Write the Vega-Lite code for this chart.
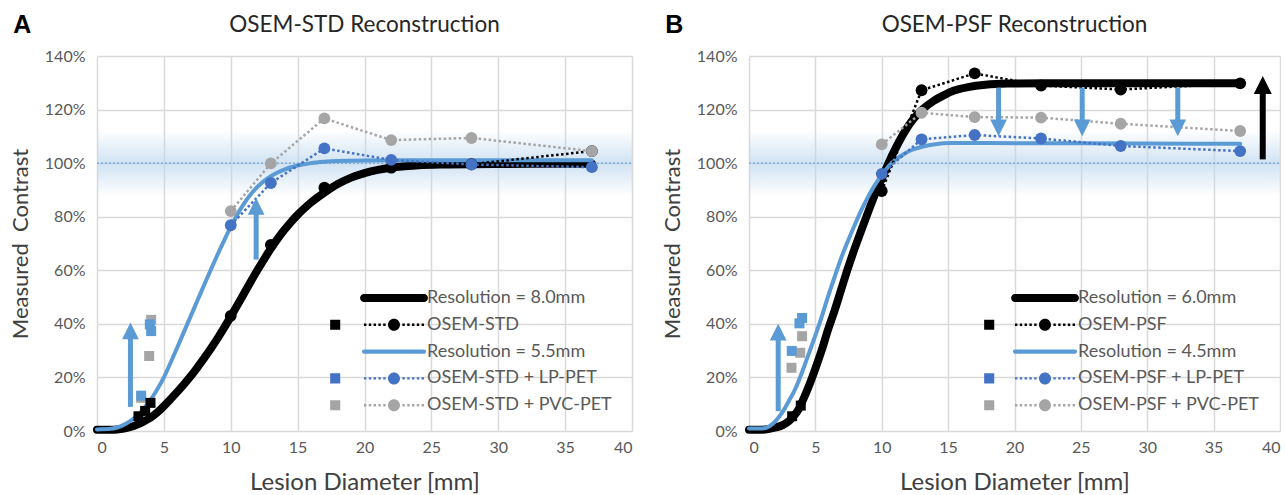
{
  "$schema": "https://vega.github.io/schema/vega-lite/v6.json",
  "background": "white",
  "autosize": {"type": "pad"},
  "padding": {"left": 9, "top": 12, "right": 0, "bottom": 0},
  "spacing": 28,
  "config": {
    "font": "Lato",
    "view": {"stroke": null},
    "axis": {"grid": true, "gridColor": "#d9d9d9", "gridWidth": 1.5, "domain": false, "ticks": false, "labelFont": "Lato", "labelFontSize": 16, "labelColor": "#595959", "titleFont": "Lato", "titleFontSize": 22, "titleFontWeight": "normal", "titleColor": "#404040"},
    "title": {"font": "Lato", "fontSize": 22.5, "fontWeight": "normal", "color": "#262626"}
  },
  "resolve": {"scale": {"x": "independent", "y": "independent", "color": "independent", "fill": "independent", "shape": "independent"}, "legend": {"color": "independent"}},
  "datasets": {
    "bandA": [{"d": 0, "d2": 40, "c": 87.5, "c2": 112.5}],
    "refA": [{"d": 0, "d2": 40, "c": 100}],
    "curvesA": [
      {"series": "Resolution = 8.0mm", "d": 0, "c": 0.5}, {"series": "Resolution = 8.0mm", "d": 1, "c": 0.5}, {"series": "Resolution = 8.0mm", "d": 1.5, "c": 0.6}, {"series": "Resolution = 8.0mm", "d": 2, "c": 0.9}, {"series": "Resolution = 8.0mm", "d": 2.5, "c": 1.5}, {"series": "Resolution = 8.0mm", "d": 3, "c": 2.4}, {"series": "Resolution = 8.0mm", "d": 3.5, "c": 3.6}, {"series": "Resolution = 8.0mm", "d": 4, "c": 5.0}, {"series": "Resolution = 8.0mm", "d": 4.5, "c": 6.9}, {"series": "Resolution = 8.0mm", "d": 5, "c": 9.3}, {"series": "Resolution = 8.0mm", "d": 5.5, "c": 11.9}, {"series": "Resolution = 8.0mm", "d": 6, "c": 14.6}, {"series": "Resolution = 8.0mm", "d": 6.5, "c": 17.4}, {"series": "Resolution = 8.0mm", "d": 7, "c": 20.4}, {"series": "Resolution = 8.0mm", "d": 7.5, "c": 23.7}, {"series": "Resolution = 8.0mm", "d": 8, "c": 27.1}, {"series": "Resolution = 8.0mm", "d": 8.5, "c": 30.7}, {"series": "Resolution = 8.0mm", "d": 9, "c": 34.5}, {"series": "Resolution = 8.0mm", "d": 9.5, "c": 38.5}, {"series": "Resolution = 8.0mm", "d": 10, "c": 42.7}, {"series": "Resolution = 8.0mm", "d": 10.5, "c": 47}, {"series": "Resolution = 8.0mm", "d": 11, "c": 51.4}, {"series": "Resolution = 8.0mm", "d": 11.5, "c": 55.8}, {"series": "Resolution = 8.0mm", "d": 12, "c": 60.1}, {"series": "Resolution = 8.0mm", "d": 12.5, "c": 64.2}, {"series": "Resolution = 8.0mm", "d": 13, "c": 68.1}, {"series": "Resolution = 8.0mm", "d": 13.5, "c": 71.7}, {"series": "Resolution = 8.0mm", "d": 14, "c": 75}, {"series": "Resolution = 8.0mm", "d": 14.5, "c": 78}, {"series": "Resolution = 8.0mm", "d": 15, "c": 80.7}, {"series": "Resolution = 8.0mm", "d": 15.5, "c": 83.1}, {"series": "Resolution = 8.0mm", "d": 16, "c": 85.3}, {"series": "Resolution = 8.0mm", "d": 17, "c": 89}, {"series": "Resolution = 8.0mm", "d": 18, "c": 92.2}, {"series": "Resolution = 8.0mm", "d": 19, "c": 94.6}, {"series": "Resolution = 8.0mm", "d": 20, "c": 96.3}, {"series": "Resolution = 8.0mm", "d": 21, "c": 97.5}, {"series": "Resolution = 8.0mm", "d": 22, "c": 98.3}, {"series": "Resolution = 8.0mm", "d": 23, "c": 98.8}, {"series": "Resolution = 8.0mm", "d": 24, "c": 99.2}, {"series": "Resolution = 8.0mm", "d": 26, "c": 99.5}, {"series": "Resolution = 8.0mm", "d": 30, "c": 99.7}, {"series": "Resolution = 8.0mm", "d": 37, "c": 99.8},
      {"series": "Resolution = 5.5mm", "d": 0, "c": 0.6}, {"series": "Resolution = 5.5mm", "d": 1, "c": 0.8}, {"series": "Resolution = 5.5mm", "d": 1.5, "c": 1.3}, {"series": "Resolution = 5.5mm", "d": 2, "c": 2.3}, {"series": "Resolution = 5.5mm", "d": 2.5, "c": 3.8}, {"series": "Resolution = 5.5mm", "d": 3, "c": 5.8}, {"series": "Resolution = 5.5mm", "d": 3.5, "c": 8.4}, {"series": "Resolution = 5.5mm", "d": 4, "c": 11.6}, {"series": "Resolution = 5.5mm", "d": 4.5, "c": 15.5}, {"series": "Resolution = 5.5mm", "d": 5, "c": 20}, {"series": "Resolution = 5.5mm", "d": 5.5, "c": 25.5}, {"series": "Resolution = 5.5mm", "d": 6, "c": 31.2}, {"series": "Resolution = 5.5mm", "d": 6.5, "c": 37}, {"series": "Resolution = 5.5mm", "d": 7, "c": 42.8}, {"series": "Resolution = 5.5mm", "d": 7.5, "c": 48.6}, {"series": "Resolution = 5.5mm", "d": 8, "c": 54.4}, {"series": "Resolution = 5.5mm", "d": 8.5, "c": 60.1}, {"series": "Resolution = 5.5mm", "d": 9, "c": 65.7}, {"series": "Resolution = 5.5mm", "d": 9.5, "c": 71.1}, {"series": "Resolution = 5.5mm", "d": 10, "c": 76.2}, {"series": "Resolution = 5.5mm", "d": 10.5, "c": 80.9}, {"series": "Resolution = 5.5mm", "d": 11, "c": 85}, {"series": "Resolution = 5.5mm", "d": 11.5, "c": 88.4}, {"series": "Resolution = 5.5mm", "d": 12, "c": 91.2}, {"series": "Resolution = 5.5mm", "d": 12.5, "c": 93.4}, {"series": "Resolution = 5.5mm", "d": 13, "c": 95.1}, {"series": "Resolution = 5.5mm", "d": 13.5, "c": 96.5}, {"series": "Resolution = 5.5mm", "d": 14, "c": 97.6}, {"series": "Resolution = 5.5mm", "d": 15, "c": 99.1}, {"series": "Resolution = 5.5mm", "d": 16, "c": 100}, {"series": "Resolution = 5.5mm", "d": 17, "c": 100.5}, {"series": "Resolution = 5.5mm", "d": 18, "c": 100.8}, {"series": "Resolution = 5.5mm", "d": 20, "c": 101}, {"series": "Resolution = 5.5mm", "d": 25, "c": 101.1}, {"series": "Resolution = 5.5mm", "d": 37, "c": 101.1}
    ],
    "ptsA": [
      {"series": "OSEM-STD", "d": 10, "c": 43}, {"series": "OSEM-STD", "d": 13, "c": 69.5}, {"series": "OSEM-STD", "d": 17, "c": 90.8}, {"series": "OSEM-STD", "d": 22, "c": 98.3}, {"series": "OSEM-STD", "d": 28, "c": 99.6}, {"series": "OSEM-STD", "d": 37, "c": 104.5},
      {"series": "OSEM-STD + PVC-PET", "d": 10, "c": 82.1}, {"series": "OSEM-STD + PVC-PET", "d": 13, "c": 99.9}, {"series": "OSEM-STD + PVC-PET", "d": 17, "c": 116.7}, {"series": "OSEM-STD + PVC-PET", "d": 22, "c": 108.6}, {"series": "OSEM-STD + PVC-PET", "d": 28, "c": 109.4}, {"series": "OSEM-STD + PVC-PET", "d": 37, "c": 104.5},
      {"series": "OSEM-STD + LP-PET", "d": 10, "c": 76.8}, {"series": "OSEM-STD + LP-PET", "d": 13, "c": 92.6}, {"series": "OSEM-STD + LP-PET", "d": 17, "c": 105.5}, {"series": "OSEM-STD + LP-PET", "d": 22, "c": 101.2}, {"series": "OSEM-STD + LP-PET", "d": 28, "c": 99.5}, {"series": "OSEM-STD + LP-PET", "d": 37, "c": 98.5}
    ],
    "sqA": [
      {"series": "OSEM-STD + PVC-PET", "d": 3.3, "c": 12.4}, {"series": "OSEM-STD + PVC-PET", "d": 4.05, "c": 41.5}, {"series": "OSEM-STD + PVC-PET", "d": 3.9, "c": 28},
      {"series": "OSEM-STD + LP-PET", "d": 3.3, "c": 13.2}, {"series": "OSEM-STD + LP-PET", "d": 3.95, "c": 39.8}, {"series": "OSEM-STD + LP-PET", "d": 4.05, "c": 37.3},
      {"series": "OSEM-STD", "d": 3.1, "c": 5.5}, {"series": "OSEM-STD", "d": 3.6, "c": 7.5}, {"series": "OSEM-STD", "d": 4.0, "c": 10.5}
    ],
    "arrA": [
      {"d": 2.5, "c": 9, "c2": 36.5, "tip": 40.5, "dir": "up", "kind": "blue"},
      {"d": 11.9, "c": 64, "c2": 83, "tip": 87, "dir": "up", "kind": "blue"}
    ],
    "curvesB": [
      {"series": "Resolution = 6.0mm", "d": 0, "c": 0.5}, {"series": "Resolution = 6.0mm", "d": 1, "c": 0.5}, {"series": "Resolution = 6.0mm", "d": 1.54, "c": 0.8}, {"series": "Resolution = 6.0mm", "d": 2, "c": 1.3}, {"series": "Resolution = 6.0mm", "d": 2.57, "c": 2.3}, {"series": "Resolution = 6.0mm", "d": 3, "c": 3.7}, {"series": "Resolution = 6.0mm", "d": 3.35, "c": 5.4}, {"series": "Resolution = 6.0mm", "d": 3.75, "c": 8.2}, {"series": "Resolution = 6.0mm", "d": 4.12, "c": 12.2}, {"series": "Resolution = 6.0mm", "d": 4.55, "c": 17.3}, {"series": "Resolution = 6.0mm", "d": 5.02, "c": 23.6}, {"series": "Resolution = 6.0mm", "d": 5.5, "c": 30.5}, {"series": "Resolution = 6.0mm", "d": 5.92, "c": 37.3}, {"series": "Resolution = 6.0mm", "d": 6.45, "c": 45}, {"series": "Resolution = 6.0mm", "d": 6.95, "c": 52.9}, {"series": "Resolution = 6.0mm", "d": 7.5, "c": 61.5}, {"series": "Resolution = 6.0mm", "d": 7.98, "c": 68.4}, {"series": "Resolution = 6.0mm", "d": 8.5, "c": 75.5}, {"series": "Resolution = 6.0mm", "d": 9, "c": 82.1}, {"series": "Resolution = 6.0mm", "d": 9.5, "c": 88.5}, {"series": "Resolution = 6.0mm", "d": 10.04, "c": 94.6}, {"series": "Resolution = 6.0mm", "d": 10.55, "c": 100.5}, {"series": "Resolution = 6.0mm", "d": 11.07, "c": 105.8}, {"series": "Resolution = 6.0mm", "d": 11.7, "c": 111.5}, {"series": "Resolution = 6.0mm", "d": 12.35, "c": 116.3}, {"series": "Resolution = 6.0mm", "d": 13.1, "c": 120.2}, {"series": "Resolution = 6.0mm", "d": 13.9, "c": 123.2}, {"series": "Resolution = 6.0mm", "d": 14.7, "c": 125.4}, {"series": "Resolution = 6.0mm", "d": 15.4, "c": 127}, {"series": "Resolution = 6.0mm", "d": 16.5, "c": 128.4}, {"series": "Resolution = 6.0mm", "d": 17.8, "c": 129.3}, {"series": "Resolution = 6.0mm", "d": 19.5, "c": 129.7}, {"series": "Resolution = 6.0mm", "d": 22.4, "c": 129.8}, {"series": "Resolution = 6.0mm", "d": 30, "c": 129.8}, {"series": "Resolution = 6.0mm", "d": 37, "c": 129.8},
      {"series": "Resolution = 4.5mm", "d": 0, "c": 0.9}, {"series": "Resolution = 4.5mm", "d": 1, "c": 0.9}, {"series": "Resolution = 4.5mm", "d": 1.54, "c": 1.8}, {"series": "Resolution = 4.5mm", "d": 2.05, "c": 4}, {"series": "Resolution = 4.5mm", "d": 2.57, "c": 7.4}, {"series": "Resolution = 4.5mm", "d": 3, "c": 11.2}, {"series": "Resolution = 4.5mm", "d": 3.35, "c": 14.3}, {"series": "Resolution = 4.5mm", "d": 3.75, "c": 18.8}, {"series": "Resolution = 4.5mm", "d": 4.12, "c": 23.6}, {"series": "Resolution = 4.5mm", "d": 4.55, "c": 29.5}, {"series": "Resolution = 4.5mm", "d": 5.02, "c": 36}, {"series": "Resolution = 4.5mm", "d": 5.5, "c": 43}, {"series": "Resolution = 4.5mm", "d": 5.92, "c": 49.7}, {"series": "Resolution = 4.5mm", "d": 6.45, "c": 57.5}, {"series": "Resolution = 4.5mm", "d": 6.95, "c": 64.7}, {"series": "Resolution = 4.5mm", "d": 7.5, "c": 71.5}, {"series": "Resolution = 4.5mm", "d": 7.98, "c": 77.1}, {"series": "Resolution = 4.5mm", "d": 8.5, "c": 82.8}, {"series": "Resolution = 4.5mm", "d": 9, "c": 87.7}, {"series": "Resolution = 4.5mm", "d": 9.5, "c": 92}, {"series": "Resolution = 4.5mm", "d": 10.04, "c": 95.8}, {"series": "Resolution = 4.5mm", "d": 10.55, "c": 99}, {"series": "Resolution = 4.5mm", "d": 11.07, "c": 101.4}, {"series": "Resolution = 4.5mm", "d": 11.7, "c": 103.5}, {"series": "Resolution = 4.5mm", "d": 12.35, "c": 105.1}, {"series": "Resolution = 4.5mm", "d": 13.1, "c": 106.2}, {"series": "Resolution = 4.5mm", "d": 13.9, "c": 107}, {"series": "Resolution = 4.5mm", "d": 15.4, "c": 107.5}, {"series": "Resolution = 4.5mm", "d": 18, "c": 107.5}, {"series": "Resolution = 4.5mm", "d": 25, "c": 107.4}, {"series": "Resolution = 4.5mm", "d": 37, "c": 107.2}
    ],
    "ptsB": [
      {"series": "OSEM-PSF", "d": 10, "c": 89.6}, {"series": "OSEM-PSF", "d": 13, "c": 127.2}, {"series": "OSEM-PSF", "d": 17, "c": 133.5}, {"series": "OSEM-PSF", "d": 22, "c": 129}, {"series": "OSEM-PSF", "d": 28, "c": 127.5}, {"series": "OSEM-PSF", "d": 37, "c": 129.8},
      {"series": "OSEM-PSF + PVC-PET", "d": 10, "c": 107}, {"series": "OSEM-PSF + PVC-PET", "d": 13, "c": 118.8}, {"series": "OSEM-PSF + PVC-PET", "d": 17, "c": 117.2}, {"series": "OSEM-PSF + PVC-PET", "d": 22, "c": 117}, {"series": "OSEM-PSF + PVC-PET", "d": 28, "c": 114.7}, {"series": "OSEM-PSF + PVC-PET", "d": 37, "c": 112},
      {"series": "OSEM-PSF + LP-PET", "d": 10, "c": 96}, {"series": "OSEM-PSF + LP-PET", "d": 13, "c": 108.9}, {"series": "OSEM-PSF + LP-PET", "d": 17, "c": 110.5}, {"series": "OSEM-PSF + LP-PET", "d": 22, "c": 109.2}, {"series": "OSEM-PSF + LP-PET", "d": 28, "c": 106.4}, {"series": "OSEM-PSF + LP-PET", "d": 37, "c": 104.5}
    ],
    "sqB": [
      {"series": "OSEM-PSF + PVC-PET", "d": 3.2, "c": 23.6}, {"series": "OSEM-PSF + PVC-PET", "d": 3.86, "c": 29.2}, {"series": "OSEM-PSF + PVC-PET", "d": 4.0, "c": 35.4},
      {"series": "OSEM-PSF + LP-PET", "d": 3.22, "c": 29.9}, {"series": "OSEM-PSF + LP-PET", "d": 3.8, "c": 40.2}, {"series": "OSEM-PSF + LP-PET", "d": 4.0, "c": 42.2},
      {"series": "OSEM-PSF", "d": 3.25, "c": 5.5}, {"series": "OSEM-PSF", "d": 3.9, "c": 9.5}
    ],
    "arrB": [
      {"d": 2.2, "c": 7.4, "c2": 36, "tip": 40, "dir": "up", "kind": "blue"},
      {"d": 18.8, "c": 128.2, "c2": 114, "tip": 110, "dir": "down", "kind": "blue"},
      {"d": 25.1, "c": 128.2, "c2": 114, "tip": 110, "dir": "down", "kind": "blue"},
      {"d": 32.3, "c": 128.2, "c2": 114, "tip": 110, "dir": "down", "kind": "blue"},
      {"d": 38.7, "c": 101.4, "c2": 128, "tip": 132.5, "dir": "up", "kind": "black"}
    ]
  },
  "hconcat": [
    {
      "title": {"text": "A", "anchor": "start", "frame": "bounds", "font": "Liberation Sans", "fontSize": 25, "fontWeight": "bold", "color": "#000000", "offset": 0, "dy": 24, "dx": 4},
      "vconcat": [
        {
          "width": 535,
          "height": 375,
          "title": {"text": "OSEM-STD Reconstruction", "frame": "group", "anchor": "middle", "offset": 12},
          "encoding": {
            "x": {"field": "d", "type": "quantitative", "scale": {"domain": [0, 40], "nice": false}, "axis": {"values": [0, 5, 10, 15, 20, 25, 30, 35, 40], "title": "Lesion Diameter [mm]", "labelPadding": 8, "titlePadding": 15, "titleFontSize": 24}},
            "y": {"field": "c", "type": "quantitative", "scale": {"domain": [0, 140], "nice": false}, "axis": {"values": [0, 20, 40, 60, 80, 100, 120, 140], "labelExpr": "datum.value + '%'", "title": "Measured\u00a0\u00a0Contrast", "labelPadding": 12, "titlePadding": 12}}
          },
          "layer": [
            {"data": {"name": "bandA"}, "mark": {"type": "rect", "color": {"gradient": "linear", "x1": 0, "y1": 0, "x2": 0, "y2": 1, "stops": [{"offset": 0, "color": "rgba(189,215,238,0)"}, {"offset": 0.5, "color": "rgba(189,215,238,0.7)"}, {"offset": 1, "color": "rgba(189,215,238,0)"}]}}, "encoding": {"x2": {"field": "d2"}, "y2": {"field": "c2"}}},
            {"data": {"name": "refA"}, "mark": {"type": "rule", "color": "#5b9bd5", "strokeWidth": 1, "strokeDash": [2, 2]}, "encoding": {"x2": {"field": "d2"}}},
            {"data": {"name": "curvesA"}, "transform": [{"filter": "datum.series === 'Resolution = 8.0mm'"}], "mark": {"type": "line", "strokeWidth": 8, "interpolate": "monotone", "strokeCap": "round"},
             "encoding": {"color": {"field": "series", "type": "nominal", "scale": {"domain": ["Resolution = 8.0mm", "OSEM-STD", "Resolution = 5.5mm", "OSEM-STD + LP-PET", "OSEM-STD + PVC-PET"], "range": ["#000000", "#000000", "#5b9bd5", "#4472c4", "#a5a5a5"]},
               "legend": {"orient": "none", "legendX": 285, "legendY": 230, "title": null, "symbolSize": 576, "symbolStrokeWidth": 0, "symbolOffset": 0, "labelOffset": 21, "rowPadding": 5.8, "labelFont": "Lato", "labelFontSize": 18, "labelColor": "#595959", "padding": 0, "labelLimit": 400,
                 "encode": {"symbols": {"update": {
                   "shape": {"signal": "datum.index === 0 ? 'M-2.5,-0.33H2.5A0.33,0.33 0 0 1 2.5,0.33H-2.5A0.33,0.33 0 0 1 -2.5,-0.33Z' : datum.index === 2 ? 'M-2.5,-0.17H2.5A0.17,0.17 0 0 1 2.5,0.17H-2.5A0.17,0.17 0 0 1 -2.5,-0.17Z' : 'M-5.32,-0.42H-4.48V0.42H-5.32ZM-0.5,0A0.5,0.5 0 1 0 0.5,0A0.5,0.5 0 1 0 -0.5,0ZM-2.5,-0.1h0.2v0.2h-0.2ZM-2.1,-0.1h0.2v0.2h-0.2ZM-1.7,-0.1h0.2v0.2h-0.2ZM-1.3,-0.1h0.2v0.2h-0.2ZM-0.9,-0.1h0.2v0.2h-0.2ZM0.7,-0.1h0.2v0.2h-0.2ZM1.1,-0.1h0.2v0.2h-0.2ZM1.5,-0.1h0.2v0.2h-0.2ZM1.9,-0.1h0.2v0.2h-0.2ZM2.3,-0.1h0.2v0.2h-0.2Z'"},
                   "fill": {"signal": "datum.index <= 1 ? '#000000' : datum.index === 2 ? '#5b9bd5' : datum.index === 3 ? '#4472c4' : '#a5a5a5'"},
                   "stroke": {"value": "transparent"}, "strokeWidth": {"value": 0}, "opacity": {"value": 1}}}}}}}},
            {"data": {"name": "curvesA"}, "transform": [{"filter": "datum.series === 'Resolution = 5.5mm'"}], "mark": {"type": "line", "strokeWidth": 4, "interpolate": "monotone", "strokeCap": "round"},
             "encoding": {"color": {"field": "series", "type": "nominal", "scale": {"domain": ["Resolution = 8.0mm", "OSEM-STD", "Resolution = 5.5mm", "OSEM-STD + LP-PET", "OSEM-STD + PVC-PET"], "range": ["#000000", "#000000", "#5b9bd5", "#4472c4", "#a5a5a5"]}}}},
            {"data": {"name": "ptsA"}, "mark": {"type": "line", "strokeWidth": 2.5, "strokeDash": [2.5, 2.5]},
             "encoding": {"color": {"field": "series", "type": "nominal", "scale": {"domain": ["Resolution = 8.0mm", "OSEM-STD", "Resolution = 5.5mm", "OSEM-STD + LP-PET", "OSEM-STD + PVC-PET"], "range": ["#000000", "#000000", "#5b9bd5", "#4472c4", "#a5a5a5"]}}}},
            {"data": {"name": "ptsA"}, "mark": {"type": "point", "filled": true, "size": 140, "opacity": 1},
             "encoding": {"color": {"field": "series", "type": "nominal", "scale": {"domain": ["Resolution = 8.0mm", "OSEM-STD", "Resolution = 5.5mm", "OSEM-STD + LP-PET", "OSEM-STD + PVC-PET"], "range": ["#000000", "#000000", "#5b9bd5", "#4472c4", "#a5a5a5"]}}}},
            {"data": {"name": "sqA"}, "mark": {"type": "square", "size": 100, "opacity": 1},
             "encoding": {"fill": {"field": "series", "type": "nominal", "scale": {"domain": ["OSEM-STD", "OSEM-STD + LP-PET", "OSEM-STD + PVC-PET"], "range": ["#000000", "#5b9bd5", "#a5a5a5"]}, "legend": null}}},
            {"data": {"name": "arrA"}, "mark": {"type": "rule", "strokeWidth": 5, "color": "#5b9bd5"}, "encoding": {"y2": {"field": "c2"}}},
            {"data": {"name": "arrA"}, "mark": {"type": "point", "filled": true, "size": 280, "opacity": 1, "color": "#5b9bd5"},
             "encoding": {"y": {"field": "tip", "type": "quantitative"}, "shape": {"field": "dir", "type": "nominal", "scale": {"domain": ["up", "down"], "range": ["M0,0L1,2L-1,2Z", "M0,0L1,-2L-1,-2Z"]}, "legend": null}}}
          ]
        }
      ]
    },
    {
      "title": {"text": "B", "anchor": "start", "frame": "bounds", "font": "Liberation Sans", "fontSize": 25, "fontWeight": "bold", "color": "#000000", "offset": 0, "dy": 24, "dx": 4},
      "vconcat": [
        {
          "width": 531,
          "height": 375,
          "title": {"text": "OSEM-PSF Reconstruction", "frame": "group", "anchor": "middle", "offset": 12},
          "encoding": {
            "x": {"field": "d", "type": "quantitative", "scale": {"domain": [0, 40], "nice": false}, "axis": {"values": [0, 5, 10, 15, 20, 25, 30, 35, 40], "title": "Lesion Diameter [mm]", "labelPadding": 8, "titlePadding": 15, "titleFontSize": 24}},
            "y": {"field": "c", "type": "quantitative", "scale": {"domain": [0, 140], "nice": false}, "axis": {"values": [0, 20, 40, 60, 80, 100, 120, 140], "labelExpr": "datum.value + '%'", "title": "Measured\u00a0\u00a0Contrast", "labelPadding": 12, "titlePadding": 12}}
          },
          "layer": [
            {"data": {"name": "bandA"}, "mark": {"type": "rect", "color": {"gradient": "linear", "x1": 0, "y1": 0, "x2": 0, "y2": 1, "stops": [{"offset": 0, "color": "rgba(189,215,238,0)"}, {"offset": 0.5, "color": "rgba(189,215,238,0.7)"}, {"offset": 1, "color": "rgba(189,215,238,0)"}]}}, "encoding": {"x2": {"field": "d2"}, "y2": {"field": "c2"}}},
            {"data": {"name": "refA"}, "mark": {"type": "rule", "color": "#5b9bd5", "strokeWidth": 1, "strokeDash": [2, 2]}, "encoding": {"x2": {"field": "d2"}}},
            {"data": {"name": "curvesB"}, "transform": [{"filter": "datum.series === 'Resolution = 6.0mm'"}], "mark": {"type": "line", "strokeWidth": 8, "interpolate": "monotone", "strokeCap": "round"},
             "encoding": {"color": {"field": "series", "type": "nominal", "scale": {"domain": ["Resolution = 6.0mm", "OSEM-PSF", "Resolution = 4.5mm", "OSEM-PSF + LP-PET", "OSEM-PSF + PVC-PET"], "range": ["#000000", "#000000", "#5b9bd5", "#4472c4", "#a5a5a5"]},
               "legend": {"orient": "none", "legendX": 284, "legendY": 230, "title": null, "symbolSize": 576, "symbolStrokeWidth": 0, "symbolOffset": 0, "labelOffset": 21, "rowPadding": 5.8, "labelFont": "Lato", "labelFontSize": 18, "labelColor": "#595959", "padding": 0, "labelLimit": 400,
                 "encode": {"symbols": {"update": {
                   "shape": {"signal": "datum.index === 0 ? 'M-2.5,-0.33H2.5A0.33,0.33 0 0 1 2.5,0.33H-2.5A0.33,0.33 0 0 1 -2.5,-0.33Z' : datum.index === 2 ? 'M-2.5,-0.17H2.5A0.17,0.17 0 0 1 2.5,0.17H-2.5A0.17,0.17 0 0 1 -2.5,-0.17Z' : 'M-5.07,-0.42H-4.23V0.42H-5.07ZM-0.5,0A0.5,0.5 0 1 0 0.5,0A0.5,0.5 0 1 0 -0.5,0ZM-2.5,-0.1h0.2v0.2h-0.2ZM-2.1,-0.1h0.2v0.2h-0.2ZM-1.7,-0.1h0.2v0.2h-0.2ZM-1.3,-0.1h0.2v0.2h-0.2ZM-0.9,-0.1h0.2v0.2h-0.2ZM0.7,-0.1h0.2v0.2h-0.2ZM1.1,-0.1h0.2v0.2h-0.2ZM1.5,-0.1h0.2v0.2h-0.2ZM1.9,-0.1h0.2v0.2h-0.2ZM2.3,-0.1h0.2v0.2h-0.2Z'"},
                   "fill": {"signal": "datum.index <= 1 ? '#000000' : datum.index === 2 ? '#5b9bd5' : datum.index === 3 ? '#4472c4' : '#a5a5a5'"},
                   "stroke": {"value": "transparent"}, "strokeWidth": {"value": 0}, "opacity": {"value": 1}}}}}}}},
            {"data": {"name": "curvesB"}, "transform": [{"filter": "datum.series === 'Resolution = 4.5mm'"}], "mark": {"type": "line", "strokeWidth": 4, "interpolate": "monotone", "strokeCap": "round"},
             "encoding": {"color": {"field": "series", "type": "nominal", "scale": {"domain": ["Resolution = 6.0mm", "OSEM-PSF", "Resolution = 4.5mm", "OSEM-PSF + LP-PET", "OSEM-PSF + PVC-PET"], "range": ["#000000", "#000000", "#5b9bd5", "#4472c4", "#a5a5a5"]}}}},
            {"data": {"name": "ptsB"}, "mark": {"type": "line", "strokeWidth": 2.5, "strokeDash": [2.5, 2.5]},
             "encoding": {"color": {"field": "series", "type": "nominal", "scale": {"domain": ["Resolution = 6.0mm", "OSEM-PSF", "Resolution = 4.5mm", "OSEM-PSF + LP-PET", "OSEM-PSF + PVC-PET"], "range": ["#000000", "#000000", "#5b9bd5", "#4472c4", "#a5a5a5"]}}}},
            {"data": {"name": "ptsB"}, "mark": {"type": "point", "filled": true, "size": 140, "opacity": 1},
             "encoding": {"color": {"field": "series", "type": "nominal", "scale": {"domain": ["Resolution = 6.0mm", "OSEM-PSF", "Resolution = 4.5mm", "OSEM-PSF + LP-PET", "OSEM-PSF + PVC-PET"], "range": ["#000000", "#000000", "#5b9bd5", "#4472c4", "#a5a5a5"]}}}},
            {"data": {"name": "sqB"}, "mark": {"type": "square", "size": 100, "opacity": 1},
             "encoding": {"fill": {"field": "series", "type": "nominal", "scale": {"domain": ["OSEM-PSF", "OSEM-PSF + LP-PET", "OSEM-PSF + PVC-PET"], "range": ["#000000", "#5b9bd5", "#a5a5a5"]}, "legend": null}}},
            {"data": {"name": "arrB"}, "transform": [{"filter": "datum.kind === 'blue'"}], "mark": {"type": "rule", "strokeWidth": 5, "color": "#5b9bd5"}, "encoding": {"y2": {"field": "c2"}}},
            {"data": {"name": "arrB"}, "transform": [{"filter": "datum.kind === 'blue'"}], "mark": {"type": "point", "filled": true, "size": 280, "opacity": 1, "color": "#5b9bd5"},
             "encoding": {"y": {"field": "tip", "type": "quantitative"}, "shape": {"field": "dir", "type": "nominal", "scale": {"domain": ["up", "down"], "range": ["M0,0L1,2L-1,2Z", "M0,0L1,-2L-1,-2Z"]}, "legend": null}}},
            {"data": {"name": "arrB"}, "transform": [{"filter": "datum.kind === 'black'"}], "mark": {"type": "rule", "strokeWidth": 6, "color": "#000000"}, "encoding": {"y2": {"field": "c2"}}},
            {"data": {"name": "arrB"}, "transform": [{"filter": "datum.kind === 'black'"}], "mark": {"type": "point", "filled": true, "size": 324, "opacity": 1, "color": "#000000"},
             "encoding": {"y": {"field": "tip", "type": "quantitative"}, "shape": {"field": "dir", "type": "nominal", "scale": {"domain": ["up", "down"], "range": ["M0,0L1,2L-1,2Z", "M0,0L1,-2L-1,-2Z"]}, "legend": null}}}
          ]
        }
      ]
    }
  ]
}
